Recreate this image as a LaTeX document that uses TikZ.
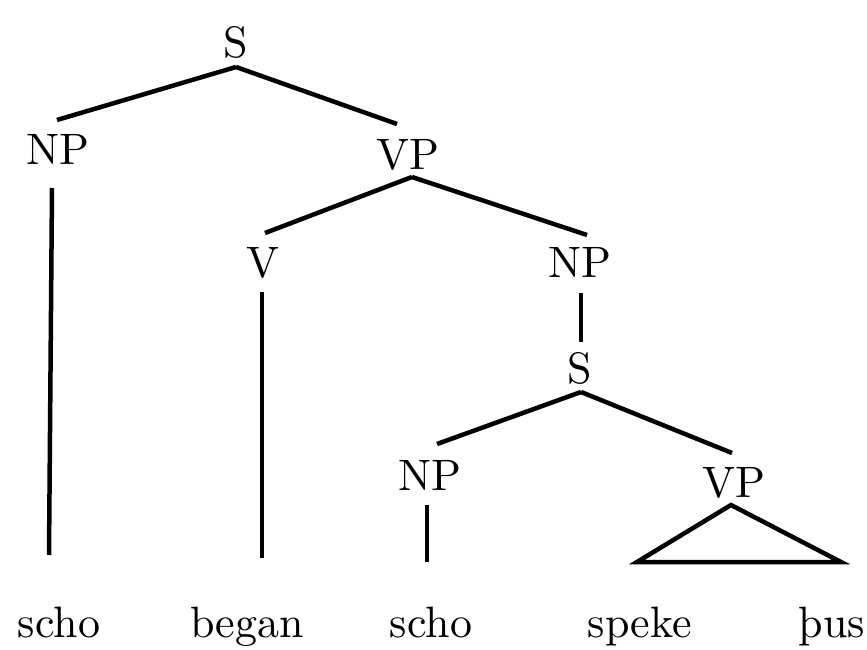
\documentclass[tikz,border=0pt]{standalone}
\usepackage{fontspec}
\setmainfont{lmroman10-regular}[Extension=.otf]
\usetikzlibrary{calc}
\begin{document}
\begin{tikzpicture}[x=1pt,y=1pt,
  lab/.style={font=\fontsize{44}{50}\selectfont, inner sep=0pt, outer sep=0pt,
              text height=30pt, text depth=0pt, anchor=base},
  branch/.style={line width=4.5pt}]
\useasboundingbox (0,0) rectangle (867,649);

% category labels
\node[lab] (S1)  at (236,591) {S};
\node[lab] (NPa) at (58,484)  {NP};
\node[lab] (VPa) at (408,479) {VP};
\node[lab] (V)   at (263,371) {V};
\node[lab] (NPb) at (580,371) {NP};
\node[lab] (S2)  at (580,266) {S};
\node[lab] (NPc) at (430,159) {NP};
\node[lab] (VPb) at (734,152) {VP};

% words
\node[lab] (w1) at (59,12)  {scho};
\node[lab] (w2) at (247,12) {began};
\node[lab] (w3) at (431,12) {scho};
\node[lab] (w4) at (640,12) {speke};
\node[lab] (w5) at (832,12) {þus};

% branches
\draw[branch] ([yshift=-9pt]S1.south) -- ([xshift=-1pt,yshift=15pt]NPa.north);
\draw[branch] ([yshift=-9pt]S1.south) -- ([xshift=-11pt,yshift=16pt]VPa.north);
\draw[branch] ([xshift=4pt,yshift=-7pt]VPa.south) -- ([xshift=2pt,yshift=15pt]V.north);
\draw[branch] ([xshift=4pt,yshift=-7pt]VPa.south) -- ([xshift=7pt,yshift=13pt]NPb.north);
\draw[branch] ([xshift=1pt,yshift=-15pt]NPb.south) -- ([xshift=1pt,yshift=11pt]S2.north);
\draw[branch] ([xshift=1pt,yshift=-9pt]S2.south) -- ([xshift=7pt,yshift=16pt]NPc.north);
\draw[branch] ([xshift=1pt,yshift=-9pt]S2.south) -- ([xshift=-2pt,yshift=14pt]VPb.north);

% lines down to the words
\draw[branch] ([xshift=-6pt,yshift=-23pt]NPa.south) -- ([xshift=-10pt,yshift=52pt]w1.north);
\draw[branch] ([xshift=-1pt,yshift=-14pt]V.south) -- ([xshift=15pt,yshift=49pt]w2.north);
\draw[branch] ([xshift=-3pt,yshift=-15pt]NPc.south) -- ([xshift=-4pt,yshift=45pt]w3.north);

% triangle under the lower VP
\coordinate (apex) at ([xshift=-3pt,yshift=-8pt]VPb.south);
\draw[branch, line join=miter] ($(apex)+(-94,-57)$) -- (apex) -- ($(apex)+(110,-57)$) -- cycle;
\end{tikzpicture}
\end{document}
